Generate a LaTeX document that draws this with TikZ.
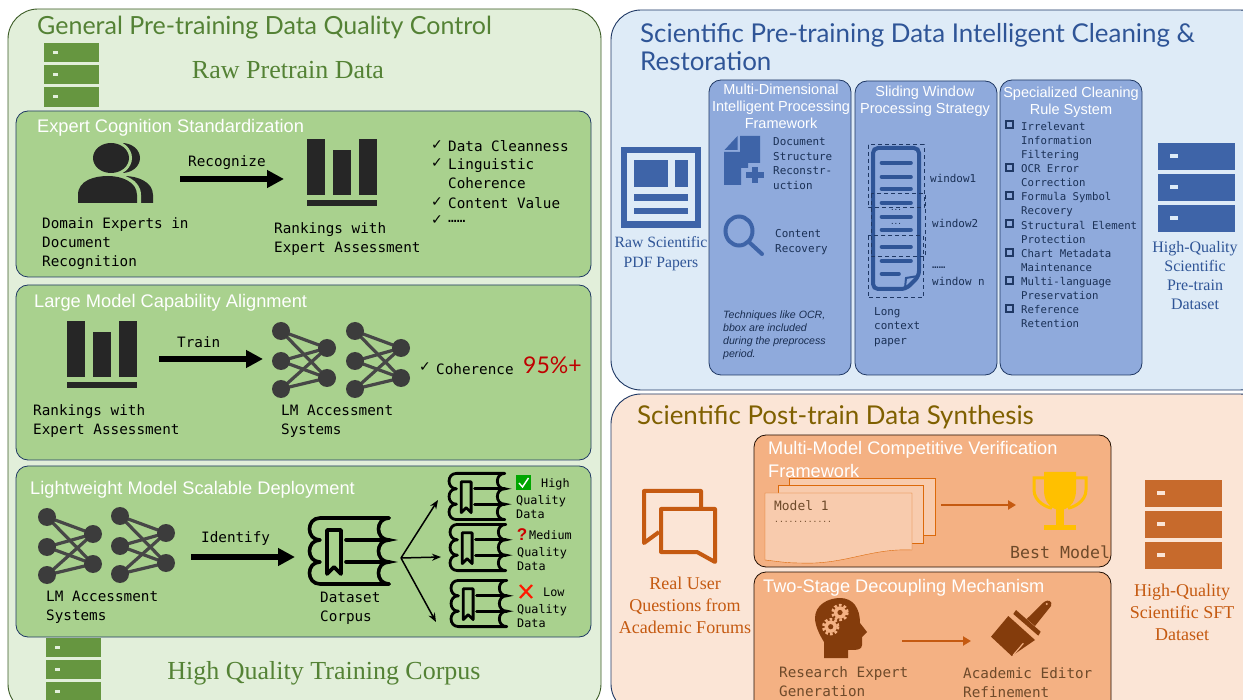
\documentclass[tikz,border=0pt]{standalone}
\usepackage{fontspec}
\usepackage{tikz}
\usetikzlibrary{arrows.meta}
\setmainfont{Liberation Serif}
\setsansfont{Liberation Sans}
\setmonofont{DejaVu Sans Mono}
\newfontfamily\titlefont{Lato}
\newfontfamily\symfont{DejaVu Sans}
\definecolor{greenbg}{HTML}{E2EFDA}
\definecolor{greenbox}{HTML}{A9D18E}
\definecolor{greendark}{HTML}{548235}
\definecolor{greenserver}{HTML}{669640}
\definecolor{bluebg}{HTML}{DEEBF7}
\definecolor{bluebox}{HTML}{8FAADC}
\definecolor{bluedark}{HTML}{3E64A8}
\definecolor{bluetext}{HTML}{2F5597}
\definecolor{navy}{HTML}{1F3864}
\definecolor{orangebg}{HTML}{FBE5D6}
\definecolor{orangebox}{HTML}{F4B183}
\definecolor{orangedark}{HTML}{C55A11}
\definecolor{orangeserver}{HTML}{C76A2C}
\definecolor{orangepage}{HTML}{F8CBAD}
\definecolor{brown}{HTML}{843C0C}
\definecolor{browntext}{HTML}{6E4A2A}
\definecolor{olivetitle}{HTML}{7F6000}
\definecolor{ink}{HTML}{262626}
\definecolor{gold}{HTML}{FFC000}
\tikzset{
  bigpanel/.style={draw=#1, line width=0.9pt, rounded corners=30pt},
  subpanel/.style={draw=navy, line width=0.8pt, rounded corners=12pt},
  headline/.style={anchor=west, inner sep=0pt, align=left, font=\titlefont\fontsize{#1}{28}\selectfont},
  serifline/.style args={#1/#2}{inner sep=0pt, align=center, font=\fontsize{#1}{#2}\selectfont},
  whitehead/.style={text=white, inner sep=0pt, font=\sffamily\fontsize{#1}{17}\selectfont},
  mono/.style={text=black, anchor=west, inner sep=0pt, align=left, font=\ttfamily\fontsize{14.3}{19}\selectfont},
  monosmall/.style={text=navy!85!black, anchor=west, inner sep=0pt, align=left, font=\ttfamily\fontsize{#1}{14.5}\selectfont},
  monosmall/.default={10.9},
  chk/.style={text=black, inner sep=0pt, font=\symfont\fontsize{14}{14}\selectfont},
  bigarrow/.style={line width=6pt, -{Triangle[length=17pt,width=17pt]}, black},
  thinarrow/.style={line width=1.5pt, -{Stealth[length=9pt,width=7pt]}, black},
  brownarrow/.style={line width=2.5pt, -{Triangle[length=8pt,width=9pt]}, orangedark},
  windowbox/.style={navy, line width=1pt, dash pattern=on 4pt off 3pt},
  pics/serverstack/.style n args={2}{code={
    \foreach \k in {0,1,2} {
      \fill[#1] (0,\k*31) rectangle (77,\k*31+27);
      \fill[#2] (12,\k*31+11) rectangle (20,\k*31+15);
    }
  }},
  pics/barchart/.style={code={
    \fill[ink] (0,0) rectangle (18,56);
    \fill[ink] (26,11) rectangle (44,56);
    \fill[ink] (52,0) rectangle (70,56);
    \fill[ink] (0,61) rectangle (70,67);
  }},
  pics/netpair/.style={code={
    \foreach \a in {0,30,58} \foreach \b in {17,47}
      \draw[ink!85, line width=3.2pt] (0,\a) -- (46,\b);
    \foreach \a in {0,30,58} \fill[ink!90] (0,\a) circle (9);
    \foreach \b in {17,47} \fill[ink!90] (46,\b) circle (9);
  }},
  pics/bookicon/.style={code={
    \draw[black, line width=#1, line cap=round, line join=round]
      (81,2) -- (12,2) .. controls (-2,2) and (-2,24) .. (12,24)
      .. controls (-2,24) and (-2,46) .. (12,46)
      .. controls (-2,46) and (-2,68) .. (12,68) -- (81,68);
    \draw[black, line width=#1, line cap=round]
      (81,2) .. controls (67,2) and (67,24) .. (81,24)
      .. controls (67,24) and (67,46) .. (81,46)
      .. controls (67,46) and (67,68) .. (81,68);
    \draw[black, line width=#1, line cap=round] (38,24) -- (81,24) (38,46) -- (81,46);
    \draw[black, line width=#1, line join=round] (19,14) -- (33,14) -- (33,58) -- (26,51) -- (19,58) -- cycle;
  }},
  pics/gearicon/.style={code={
    \fill[orangebox] (0,0) circle (6.2);
    \draw[orangebox, line width=2.6pt, dash pattern=on 2.6pt off 2.2pt] (0,0) circle (7.4);
    \fill[brown] (0,0) circle (2.6);
  }},
}
\begin{document}
\begin{tikzpicture}[x=1pt, y=-1pt]
\useasboundingbox (0,0) rectangle (1243,700);
\clip (0,0) rectangle (1243,700);
\fill[white] (0,0) rectangle (1243,700);

% left column
\draw[bigpanel=greendark!70!black, fill=greenbg] (8,9) rectangle (601,714);
\node[headline=25, text=greendark] (gentitle) at (37,28) {General Pre-training Data Quality Control};
\pic[scale=.715] at (44,43) {serverstack={greenserver}{greenbg}};
\node[serifline=26/29, text=greendark] (rawlabel) at (288,70) {Raw Pretrain Data};

\draw[subpanel, fill=greenbox] (16,111) rectangle (591,277);
\draw[subpanel, fill=greenbox] (16,285) rectangle (591,460);
\draw[subpanel, fill=greenbox] (16,466) rectangle (591,637);

% expert cognition
\node[whitehead=18.25, anchor=west] (expert) at (37,128) {Expert Cognition Standardization};
\fill[ink] (122,158) ellipse (18 and 15);
\fill[ink] (94,203) -- (94,195) .. controls (94,180) and (111,176) .. (124,176) .. controls (138,176) and (153,182) .. (153,195) -- (153,203) -- cycle;
\fill[greenbox] (111,158) ellipse (21 and 18);
\fill[greenbox] (74,203) -- (74,195) .. controls (74,176) and (95,173) .. (108,173) .. controls (124,173) and (141,180) .. (141,195) -- (141,203) -- cycle;
\fill[ink] (111,158) ellipse (18 and 15);
\fill[ink] (78,203) -- (78,195) .. controls (78,180) and (95,176) .. (108,176) .. controls (122,176) and (137,182) .. (137,195) -- (137,203) -- cycle;
\node[mono] (domain) at (42,244) {Domain Experts in\\Document\\Recognition};
\coordinate (recfrom) at (180,179);
\coordinate (recto) at (284,179);
\draw[bigarrow] (recfrom) -- (recto);
\node[mono] (recog) at (188,163) {Recognize};
\pic at (307,139) {barchart};
\node[mono] (rank1) at (274,239) {Rankings with\\Expert Assessment};
\foreach \y in {145,163,202,220} \node[chk] (chk\y) at (437,\y) {✓};
\node[mono] (clean) at (448,146) {Data Cleanness};
\node[mono] (ling) at (448,174) {Linguistic\\Coherence};
\node[mono] (cvalue) at (448,203) {Content Value};
\node[mono] (more1) at (448,221) {……};

% large model
\node[whitehead=18.25, anchor=west] (largem) at (34,303) {Large Model Capability Alignment};
\pic at (67,321) {barchart};
\node[mono] (rank2) at (33,421) {Rankings with\\Expert Assessment};
\coordinate (trainfrom) at (159,359);
\coordinate (trainto) at (263,359);
\draw[bigarrow] (trainfrom) -- (trainto);
\node[mono] (train) at (177,342) {Train};
\pic at (281,331) {netpair};
\pic at (355,331) {netpair};
\node[mono] (lm1) at (281,421) {LM Accessment\\Systems};
\node[chk] (chkco) at (425,367) {✓};
\node[mono] (coher) at (436,369) {Coherence};
\node[anchor=west, inner sep=0pt, text=red!75!black, font=\titlefont\fontsize{23}{28}\selectfont] (percent) at (523,365) {95\%+};

% lightweight
\node[whitehead=18.25, anchor=west] (lightw) at (30,490) {Lightweight Model Scalable Deployment};
\pic at (47,517) {netpair};
\pic at (120,516) {netpair};
\node[mono] (lm2) at (46,607) {LM Accessment\\Systems};
\coordinate (idfrom) at (191,557);
\coordinate (idto) at (295,557);
\draw[bigarrow] (idfrom) -- (idto);
\node[mono] (ident) at (201,539) {Identify};
\pic at (308,516) {bookicon=3.6pt};
\node[mono] (corpus) at (320,608) {Dataset\\Corpus};
\pic[scale=.7] at (448,472) {bookicon=2.8pt};
\pic[scale=.7] at (449,523) {bookicon=2.8pt};
\pic[scale=.7] at (450,579) {bookicon=2.8pt};
\coordinate (fork) at (401,558);
\coordinate (forkhigh) at (438,500);
\coordinate (forkmid) at (441,557);
\coordinate (forklow) at (436,622);
\draw[thinarrow] (fork) -- (forkhigh);
\draw[thinarrow] (fork) -- (forkmid);
\draw[thinarrow] (fork) -- (forklow);
\fill[green!65!black] (516,475) rectangle (531,490);
\draw[white, line width=1.4pt] (519,483) -- (522.5,487) -- (528.5,478);
\node[monosmall=11.8, text=black] (high) at (541,484) {High};
\node[monosmall=11.8, text=black] (highq) at (516,507) {Quality\\Data};
\node[text=red!80!black, inner sep=0pt, font=\sffamily\bfseries\fontsize{17}{17}\selectfont] (qmark) at (522,535) {?};
\node[monosmall=11.8, text=black] (medium) at (529,535) {Medium};
\node[monosmall=11.8, text=black] (medq) at (517,559) {Quality\\Data};
\draw[red!80!orange, line width=2.2pt] (520,585) -- (532,598) (532,585) -- (520,598);
\node[monosmall=11.8, text=black] (low) at (543,592) {Low};
\node[monosmall=11.8, text=black] (lowq) at (517,616) {Quality\\Data};

\pic[scale=.715] at (46,638) {serverstack={greenserver}{greenbg}};
\node[serifline=26/29, text=greendark] (hqlabel) at (324,673) {High Quality Training Corpus};

% blue part
\draw[bigpanel=navy, fill=bluebg] (611,10) rectangle (1270,390);
\node[headline=25.9, text=bluetext] (scititle) at (640,47) {Scientific Pre-training Data Intelligent Cleaning \&\\Restoration};

\fill[bluedark] (621,147) rectangle (701,228);
\fill[bluebg] (627,153) rectangle (695,221);
\fill[bluedark] (634,160) rectangle (668,187);
\fill[bluedark] (675,160) rectangle (688,187);
\fill[bluedark] (634,194) rectangle (688,201);
\fill[bluedark] (634,208) rectangle (688,214);
\node[serifline=15.7/20, text=bluetext] (rawsci) at (661,254) {Raw Scientific\\PDF Papers};

\draw[subpanel, fill=bluebox] (709,80) rectangle (851,375);
\draw[subpanel, fill=bluebox] (855,81) rectangle (997,375);
\draw[subpanel, fill=bluebox] (1000,80) rectangle (1142,375);

\node[whitehead=14.5, align=center] (multidim) at (781,106) {Multi-Dimensional\\Intelligent Processing\\Framework};
\fill[bluedark] (724.5,150) -- (737.5,136) -- (737.5,150) -- cycle;
\fill[bluedark] (740,136) -- (760,136) -- (760,163) -- (748,163) -- (748,168) -- (741,168) -- (741,185) -- (724,185) -- (724,152) -- (740,152) -- cycle;
\fill[bluedark] (752,167) rectangle (758,183);
\fill[bluedark] (746,172) rectangle (764,178);
\node[monosmall] (docstruct) at (773,163.5) {Document\\Structure\\Reconstr-\\uction};
\draw[bluedark, line width=4pt] (739,231) ellipse (13.5 and 14.5);
\draw[bluedark, line width=4pt, line cap=round] (750,243) -- (762,254);
\node[monosmall] (content) at (775,242) {Content\\Recovery};
\node[anchor=west, inner sep=0pt, align=left, text=navy!80!black, font=\sffamily\itshape\fontsize{10.6}{13}\selectfont] (techn) at (723,335) {Techniques like OCR,\\bbox are included\\during the preprocess\\period.};

\node[whitehead=14.5, align=center] (sliding) at (925,101.5) {Sliding Window\\Processing Strategy};
\draw[bluetext, line width=4pt, rounded corners=5pt] (873,148) -- (919,148) -- (919,276) -- (906,289) -- (873,289) -- cycle;
\draw[bluetext, line width=2pt] (918,276) -- (906,278) -- (905,288);
\foreach \y in {163,177,189,203,217,230,247,261} \draw[bluetext, line width=3.6pt, line cap=round] (881.5,\y) -- (911,\y);
\draw[bluetext, line width=3.6pt, line cap=round] (881.5,274) -- (899,274);
\draw[windowbox] (868,145) rectangle (924,208);
\draw[windowbox] (871,194) rectangle (925,257);
\draw[windowbox] (868,236) rectangle (923,298);
\node[monosmall, anchor=center, font=\ttfamily\bfseries\fontsize{6}{6}\selectfont] (dots1) at (896,210) {...};
\node[monosmall, anchor=center, font=\ttfamily\bfseries\fontsize{6}{6}\selectfont] (dots2) at (896,224) {...};
\node[monosmall] (win1) at (930,178) {window1};
\node[monosmall] (win2) at (932,223) {window2};
\node[monosmall] (windots) at (932,268) {……};
\node[monosmall] (winn) at (932,281) {window n};
\node[monosmall] (longp) at (874,327) {Long\\context\\paper};

\node[whitehead=14.5, align=center] (special) at (1071,102.5) {Specialized Cleaning\\Rule System};
\foreach \y in {125,168,196,224,253,281,309}
  \draw[navy, line width=2pt] (1005.5,\y-3.5) rectangle (1012.5,\y+3.5);
\node[monosmall, font=\ttfamily\fontsize{10.7}{14.1}\selectfont] (rules) at (1021,225) {Irrelevant\\Information\\Filtering\\OCR Error\\Correction\\Formula Symbol\\Recovery\\Structural Element\\Protection\\Chart Metadata\\Maintenance\\Multi-language\\Preservation\\Reference\\Retention};

\pic at (1157.5,143) {serverstack={bluedark}{bluebg}};
\node[serifline=16/19, text=bluetext] (hqsci) at (1195,276) {High-Quality\\Scientific\\Pre-train\\Dataset};

% orange part
\draw[bigpanel=navy, fill=orangebg] (611,394) rectangle (1270,714);
\node[headline=25.9, text=olivetitle] (posttitle) at (637,417) {Scientific Post-train Data Synthesis};
\draw[orangedark, line width=4pt, line join=round] (701,507) -- (701,491) -- (644,491) -- (644,543) -- (659,532);
\draw[orangedark, line width=4pt, line join=round] (661,509) -- (715,509) -- (715,562) -- (697,552) -- (661,552) -- cycle;
\node[serifline=18/22, text=orangedark] (realuser) at (685,605) {Real User\\Questions from\\Academic Forums};

\draw[subpanel, draw=black!75!brown, fill=orangebox] (754,435) rectangle (1111,567);
\draw[subpanel, draw=black!75!brown, fill=orangebox] (754,572) rectangle (1111,714);
\node[whitehead=18, anchor=west, align=left, font=\sffamily\fontsize{18.2}{23}\selectfont] (verif) at (768,459.5) {Multi-Model Competitive Verification\\Framework};
\draw[orangedark!60!orange, fill=orangepage] (789,478) rectangle (935,535);
\draw[orangedark!60!orange, fill=orangepage] (778,485) rectangle (923,543);
\draw[orangedark!60!orange, fill=orangepage] (765,493) -- (912,493) -- (912,550) .. controls (870,548) and (845,565) .. (800,563) .. controls (785,563) and (775,561) .. (765,560) -- cycle;
\node[monosmall=12.9, text=browntext] (model1) at (774,506) {Model 1};
\node[monosmall=8, text=browntext] (model1d) at (774,522) {............};
\coordinate (modelfrom) at (941,505);
\coordinate (modelto) at (1016,505);
\draw[brownarrow] (modelfrom) -- (modelto);
\draw[gold, line width=3pt] (1044,478) -- (1034,478) -- (1034,490) .. controls (1034,502) and (1048,508) .. (1052,508);
\draw[gold, line width=3pt] (1076,478) -- (1086,478) -- (1086,490) .. controls (1086,502) and (1072,508) .. (1068,508);
\fill[gold] (1044,472) -- (1076,472) -- (1076,490) .. controls (1076,505) and (1066,510) .. (1060,510) .. controls (1054,510) and (1044,505) .. (1044,490) -- cycle;
\fill[gold] (1056,505) rectangle (1064,526);
\fill[gold] (1044,525) rectangle (1076,530);
\node[mono, font=\ttfamily\fontsize{16.6}{19}\selectfont, text=browntext] (best) at (1010,552) {Best Model};

\node[whitehead=18.2, anchor=west] (twostage) at (763,588) {Two-Stage Decoupling Mechanism};
\fill[brown] (824,658) -- (824,642) .. controls (819,634) and (815,625) .. (815,618) .. controls (815,605) and (828,598) .. (840,598) .. controls (853,598) and (860,608) .. (860,623) -- (867,632) -- (862,637) -- (862,645) .. controls (862,650) and (857,650) .. (848,650) -- (848,658) -- cycle;
\pic at (840,612.5) {gearicon};
\pic at (830.7,626.7) {gearicon};
\coordinate (stagefrom) at (902,641);
\coordinate (stageto) at (971,641);
\draw[brownarrow] (stagefrom) -- (stageto);
\fill[brown] (991,636.7) -- (1008.3,616) -- (1035,640) -- (1011.7,656) -- cycle;
\fill[brown] (1016,610) -- (1040.7,631.7) -- (1038.3,635.7) -- (1013.3,614) -- cycle;
\fill[brown] (1026.7,619) -- (1035,626) -- (1051,606) .. controls (1053,601) and (1048,599) .. (1044,602) -- cycle;
\draw[orangebox, line width=1.2pt] (1013.3,655) -- (1023.3,643.3);
\fill[orangebox] (1046.7,604) circle (1.2);
\node[mono, text=browntext] (resexp) at (779,681.5) {Research Expert\\Generation};
\node[mono, text=browntext] (acad) at (963,682.5) {Academic Editor\\Refinement};

\pic at (1144.5,480) {serverstack={orangeserver}{orangebg}};
\node[serifline=18/22, text=orangedark] (hqsft) at (1182,612) {High-Quality\\Scientific SFT\\Dataset};
\end{tikzpicture}
\end{document}
